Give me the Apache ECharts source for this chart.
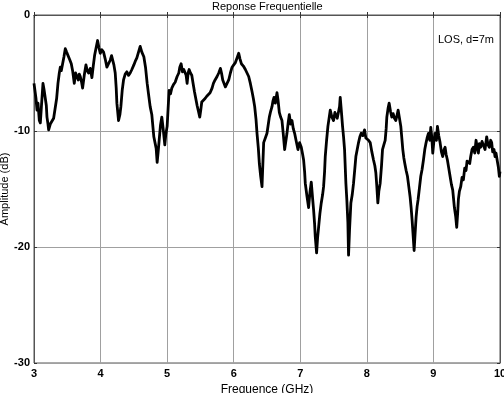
<!DOCTYPE html>
<html>
<head>
<meta charset="utf-8">
<script src="https://cdn.jsdelivr.net/npm/echarts@6/dist/echarts.min.js"></script>
<style>
html, body { margin: 0; padding: 0; background: #fff; }
#chart { width: 504px; height: 393px; }
</style>
</head>
<body>
<div id="chart"></div>
<script>
// frequency (GHz) and amplitude (dB)
var freq = [
	3.00, 3.01, 3.03, 3.045, 3.06, 3.08, 3.095, 3.11, 3.135, 3.15, 3.17, 3.185, 3.195, 3.21, 3.22, 3.245, 3.27, 3.295, 3.32, 3.34,
	3.36, 3.38, 3.395, 3.41, 3.43, 3.45, 3.47, 3.49, 3.52, 3.54, 3.56, 3.58, 3.605, 3.625, 3.645, 3.665, 3.68, 3.695, 3.715, 3.73,
	3.755, 3.78, 3.80, 3.82, 3.845, 3.87, 3.89, 3.91, 3.93, 3.955, 3.975, 3.995, 4.02, 4.045, 4.07, 4.095, 4.12, 4.145, 4.165, 4.18,
	4.20, 4.22, 4.235, 4.245, 4.27, 4.29, 4.305, 4.325, 4.345, 4.37, 4.395, 4.42, 4.445, 4.47, 4.50, 4.52, 4.545, 4.57, 4.595, 4.62,
	4.65, 4.675, 4.70, 4.72, 4.745, 4.77, 4.80, 4.82, 4.835, 4.85, 4.865, 4.88, 4.90, 4.92, 4.94, 4.965, 4.98, 5.00, 5.015, 5.03,
	5.05, 5.07, 5.095, 5.12, 5.15, 5.175, 5.19, 5.21, 5.23, 5.25, 5.27, 5.285, 5.30, 5.315, 5.33, 5.35, 5.37, 5.39, 5.41, 5.43,
	5.45, 5.47, 5.49, 5.505, 5.52, 5.545, 5.57, 5.595, 5.62, 5.645, 5.675, 5.695, 5.72, 5.75, 5.775, 5.80, 5.82, 5.835, 5.855, 5.875,
	5.90, 5.925, 5.95, 5.975, 6.00, 6.025, 6.05, 6.075, 6.095, 6.115, 6.145, 6.175, 6.20, 6.225, 6.25, 6.275, 6.295, 6.315, 6.335, 6.35,
	6.37, 6.385, 6.405, 6.425, 6.44, 6.45, 6.475, 6.50, 6.52, 6.535, 6.555, 6.575, 6.59, 6.605, 6.625, 6.65, 6.665, 6.685, 6.705, 6.725,
	6.745, 6.765, 6.785, 6.80, 6.82, 6.835, 6.855, 6.875, 6.895, 6.915, 6.94, 6.965, 6.99, 7.015, 7.035, 7.05, 7.065, 7.075, 7.10, 7.125,
	7.145, 7.165, 7.185, 7.20, 7.215, 7.225, 7.245, 7.26, 7.275, 7.295, 7.315, 7.335, 7.35, 7.365, 7.375, 7.395, 7.415, 7.435, 7.45, 7.475,
	7.50, 7.52, 7.535, 7.555, 7.575, 7.59, 7.60, 7.62, 7.635, 7.65, 7.665, 7.685, 7.70, 7.715, 7.725, 7.74, 7.76, 7.78, 7.80, 7.82,
	7.835, 7.855, 7.875, 7.895, 7.915, 7.94, 7.965, 7.985, 8.00, 8.025, 8.05, 8.075, 8.10, 8.12, 8.135, 8.15, 8.165, 8.18, 8.20, 8.22,
	8.235, 8.255, 8.275, 8.29, 8.30, 8.32, 8.335, 8.355, 8.375, 8.395, 8.415, 8.435, 8.455, 8.47, 8.49, 8.51, 8.525, 8.54, 8.555, 8.57,
	8.59, 8.61, 8.63, 8.65, 8.665, 8.68, 8.695, 8.71, 8.725, 8.74, 8.755, 8.77, 8.79, 8.81, 8.83, 8.85, 8.87, 8.89, 8.905, 8.925,
	8.945, 8.96, 8.975, 8.99, 9.005, 9.025, 9.045, 9.06, 9.08, 9.10, 9.12, 9.14, 9.16, 9.175, 9.19, 9.21, 9.23, 9.25, 9.27, 9.29,
	9.305, 9.315, 9.335, 9.35, 9.365, 9.375, 9.39, 9.41, 9.43, 9.45, 9.47, 9.49, 9.505, 9.525, 9.545, 9.56, 9.58, 9.60, 9.62, 9.64,
	9.66, 9.675, 9.69, 9.71, 9.73, 9.75, 9.775, 9.80, 9.82, 9.84, 9.86, 9.875, 9.89, 9.91, 9.925, 9.94, 9.96, 9.975, 9.99, 10.0
];
var amp = [
	-5.9, -6.0, -7.2, -8.2, -7.6, -9.1, -9.3, -8.0, -5.9, -6.4, -7.2, -7.8, -8.8, -9.4, -9.9, -9.4, -9.3, -8.9, -8.8, -7.2,
	-5.9, -5.0, -4.5, -4.8, -4.2, -3.6, -2.9, -3.2, -3.3, -3.9, -4.2, -4.8, -5.9, -5.0, -4.9, -5.6, -5.1, -5.3, -5.8, -6.3,
	-5.2, -4.3, -4.8, -5.0, -4.6, -5.4, -4.4, -3.5, -2.9, -2.2, -2.8, -3.3, -3.0, -3.2, -3.8, -4.5, -4.2, -3.9, -3.5, -3.6,
	-4.3, -5.0, -6.3, -7.6, -9.1, -8.6, -7.9, -6.5, -5.6, -5.1, -4.9, -5.2, -5.0, -4.7, -4.3, -4.0, -3.7, -3.2, -2.7, -3.2,
	-3.6, -4.5, -5.9, -6.8, -7.9, -8.6, -10.5, -10.5, -11.5, -12.7, -11.8, -10.8, -9.5, -8.8, -9.8, -11.2, -10.3, -9.6, -8.0, -6.5,
	-6.8, -6.3, -6.0, -5.8, -5.3, -5.0, -4.5, -4.2, -4.9, -4.7, -4.6, -5.2, -5.9, -5.0, -4.7, -5.0, -5.2, -5.9, -6.6, -7.2,
	-7.8, -8.3, -8.8, -8.2, -7.5, -7.4, -7.2, -7.0, -6.9, -6.7, -6.3, -5.9, -5.6, -5.3, -5.0, -4.6, -5.1, -5.6, -5.9, -6.2,
	-5.9, -5.6, -5.0, -4.5, -4.3, -4.1, -3.7, -3.3, -3.8, -4.2, -4.4, -4.7, -5.0, -5.3, -5.9, -6.6, -7.2, -7.9, -9.0, -10.2,
	-11.5, -12.8, -13.9, -14.8, -12.5, -11.0, -10.6, -10.2, -9.4, -8.8, -8.3, -7.9, -7.4, -7.1, -7.6, -6.7, -7.3, -8.4, -8.8, -9.1,
	-10.3, -11.6, -10.8, -10.2, -9.2, -8.6, -9.4, -9.1, -9.8, -10.2, -10.9, -11.6, -11.0, -11.4, -12.0, -12.5, -13.5, -14.5, -15.6, -16.6,
	-15.3, -14.4, -15.8, -16.8, -18.0, -19.1, -20.5, -19.2, -18.3, -17.1, -16.2, -15.5, -14.8, -13.5, -12.2, -10.8, -9.6, -8.8, -8.2, -8.8,
	-9.1, -8.4, -8.4, -8.9, -8.8, -7.9, -7.1, -8.5, -9.6, -10.5, -11.6, -14.5, -16.0, -17.9, -20.7, -18.5, -16.2, -15.5, -14.5, -13.2,
	-12.2, -11.6, -11.0, -10.5, -10.2, -10.4, -9.9, -10.6, -10.5, -10.8, -11.0, -11.8, -12.5, -13.0, -13.6, -14.8, -16.2, -15.2, -14.5, -13.0,
	-11.6, -11.2, -10.8, -9.8, -8.8, -8.0, -7.6, -8.3, -8.8, -8.5, -8.9, -9.1, -8.6, -8.2, -8.9, -9.6, -10.6, -11.6, -12.3, -12.8,
	-13.4, -13.9, -14.8, -15.7, -16.6, -17.7, -19.0, -20.3, -18.8, -17.4, -16.5, -15.9, -14.9, -13.9, -13.3, -12.5, -11.6, -11.0, -10.6, -10.2,
	-10.8, -9.7, -10.5, -11.9, -11.0, -10.2, -10.8, -9.6, -10.4, -11.0, -11.8, -12.2, -11.6, -11.4, -12.0, -12.5, -13.2, -13.9, -14.6, -15.1,
	-16.0, -16.6, -17.4, -18.3, -17.0, -15.9, -15.2, -14.8, -14.0, -14.2, -13.2, -13.4, -12.6, -12.5, -12.8, -12.2, -11.6, -11.4, -11.9, -10.8,
	-11.5, -11.9, -11.1, -11.4, -10.9, -11.0, -11.6, -10.5, -11.2, -11.4, -10.8, -11.0, -11.8, -11.6, -12.2, -11.9, -12.6, -13.1, -13.9, -13.5
];
var xTicks = [3, 4, 5, 6, 7, 8, 9, 10];
var yTicks = [-30, -20, -10, 0];

var points = [];
for (var i = 0; i < freq.length; i++) {
	points.push([freq[i], amp[i]]);
}

var chart = echarts.init(document.getElementById('chart'), null, { renderer: 'canvas' });
var labelStyle = {
	color: '#000',
	fontFamily: 'Liberation Sans',
	fontSize: 11,
	fontWeight: 'bold'
};
var option = {
	animation: false,
	backgroundColor: '#fff',
	title: [{
		text: 'Reponse Frequentielle',
		left: 207,
		top: -4,
		textStyle: { fontFamily: 'Liberation Sans', fontSize: 11, fontWeight: 'normal', color: '#000' }
	}, {
		text: 'LOS, d=7m',
		left: 433,
		top: 29,
		textStyle: { fontFamily: 'Liberation Sans', fontSize: 11, fontWeight: 'normal', color: '#000' }
	}],
	grid: {
		left: 34,
		right: 4,
		top: 15,
		bottom: 30,
		outerBoundsMode: 'none',
		containLabel: false,
		show: true,
		borderColor: '#555',
		borderWidth: 1
	},
	xAxis: [{
		type: 'value',
		min: xTicks[0],
		max: xTicks[xTicks.length - 1],
		interval: 1,
		name: 'Frequence (GHz)',
		nameLocation: 'middle',
		nameGap: 21,
		nameMoveOverlap: false,
		nameTextStyle: { fontFamily: 'Liberation Sans', fontSize: 12, color: '#000' },
		axisLine: { show: true, lineStyle: { color: '#555' } },
		axisTick: { show: true, inside: true, length: 3, lineStyle: { color: '#333' } },
		axisLabel: Object.assign({ margin: 5 }, labelStyle),
		splitLine: { show: true, lineStyle: { color: '#a0a0a0', width: 1 } }
	}, {
		type: 'value',
		position: 'top',
		min: xTicks[0],
		max: xTicks[xTicks.length - 1],
		interval: 1,
		axisLine: { show: true, lineStyle: { color: '#555' } },
		axisTick: { show: true, inside: true, length: 3, lineStyle: { color: '#333' } },
		axisLabel: { show: false },
		splitLine: { show: false }
	}],
	yAxis: [{
		type: 'value',
		min: yTicks[0],
		max: yTicks[yTicks.length - 1],
		interval: 10,
		name: 'Amplitude (dB)',
		nameLocation: 'middle',
		nameGap: 24,
		nameMoveOverlap: false,
		nameTextStyle: { fontFamily: 'Liberation Sans', fontSize: 11, color: '#000' },
		axisLine: { show: true, lineStyle: { color: '#555' } },
		axisTick: { show: true, inside: true, length: 3, lineStyle: { color: '#333' } },
		axisLabel: Object.assign({ margin: 4 }, labelStyle),
		splitLine: { show: true, lineStyle: { color: '#a0a0a0', width: 1 } }
	}, {
		type: 'value',
		position: 'right',
		min: yTicks[0],
		max: yTicks[yTicks.length - 1],
		interval: 10,
		axisLine: { show: true, lineStyle: { color: '#555' } },
		axisTick: { show: true, inside: true, length: 3, lineStyle: { color: '#333' } },
		axisLabel: { show: false },
		splitLine: { show: false }
	}],
	series: [{
		name: 'Amplitude',
		type: 'line',
		data: points,
		showSymbol: false,
		smooth: false,
		lineStyle: { color: '#000', width: 2.8, join: 'round' },
		z: 5
	}]
};
chart.setOption(option);
</script>
</body>
</html>
